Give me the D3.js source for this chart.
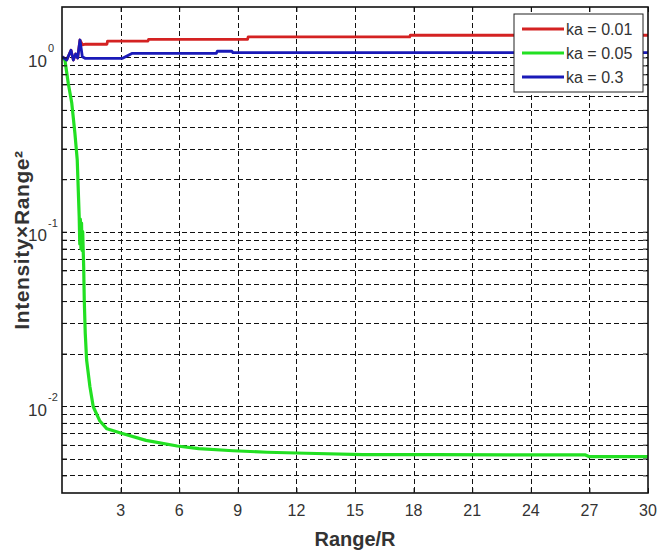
<!DOCTYPE html>
<html>
<head>
<meta charset="utf-8">
<script src="https://cdn.jsdelivr.net/npm/d3@7"></script>
<style>
  body { margin: 0; background: #fff; }
  svg { display: block; }
  text { font-family: "Liberation Sans", Arial, sans-serif; }
</style>
</head>
<body>
<svg id="chart" width="660" height="557"></svg>
<script>
// Range/R tick labels on the x axis
const xTickValues = [3, 6, 9, 12, 15, 18, 21, 24, 27, 30];
// Decade labels on the log y axis (value, exponent)
const yDecadeValues = [1, 0.1, 0.01];
const yDecadeExponents = ["0", "-1", "-2"];

const seriesNames = ["ka = 0.01", "ka = 0.05", "ka = 0.3"];
const seriesColors = ["#d42222", "#22e022", "#1a1ab8"];

// ka = 0.01
const rangeKa001 = [0, 0.24, 0.46, 0.58, 0.70, 0.80, 0.92, 1.05, 1.2, 2.3, 2.33, 4.4, 4.43, 9.5, 9.53, 17.8, 17.83, 30];
const intensityKa001 = [1.009, 0.966, 1.10, 0.966, 1.046, 0.992, 1.258, 1.18, 1.19, 1.19, 1.24, 1.24, 1.27, 1.27, 1.31, 1.31, 1.34, 1.34];

// ka = 0.05
const rangeKa005 = [0, 0.15, 0.32, 0.50, 0.66, 0.78, 0.88, 0.91, 0.94, 0.97, 1.00, 1.03, 1.06, 1.09, 1.11, 1.14, 1.19, 1.26, 1.43, 1.60, 1.94, 2.3, 3.0, 4.3, 5.9, 7.0, 8.75, 10.5, 12.5, 15.4, 19.0, 26.8, 27.0, 30];
const intensityKa005 = [1.0, 0.966, 0.71, 0.547, 0.368, 0.258, 0.122, 0.085, 0.118, 0.08, 0.112, 0.078, 0.10, 0.075, 0.063, 0.0406, 0.0262, 0.01836, 0.01291, 0.00991, 0.0082, 0.0074, 0.0070, 0.00635, 0.0059, 0.0057, 0.00554, 0.00543, 0.00536, 0.00526, 0.00526, 0.00524, 0.00512, 0.00512];

// ka = 0.3
const rangeKa03 = [0, 0.24, 0.46, 0.58, 0.70, 0.80, 0.92, 1.04, 1.18, 3.1, 3.6, 7.9, 7.95, 8.7, 8.75, 30];
const intensityKa03 = [1.009, 0.966, 1.10, 0.966, 1.046, 0.992, 1.258, 1.009, 0.988, 0.988, 1.055, 1.055, 1.085, 1.085, 1.064, 1.064];

const series = [
  { name: seriesNames[0], color: seriesColors[0], xs: rangeKa001, ys: intensityKa001 },
  { name: seriesNames[1], color: seriesColors[1], xs: rangeKa005, ys: intensityKa005 },
  { name: seriesNames[2], color: seriesColors[2], xs: rangeKa03, ys: intensityKa03 }
];

const svg = d3.select("#chart");
const plot = { left: 62, right: 648, top: 7, bottom: 493 };

const x = d3.scaleLinear().domain([0, 30]).range([plot.left, plot.right]);
const y = d3.scaleLog().domain([0.00317, 1.946]).range([plot.bottom, plot.top]);

// all minor/major log positions inside the domain
const logTicks = [];
for (let e = -3; e <= 0; e++) {
  for (let m = 1; m <= 9; m++) {
    const v = m * Math.pow(10, e);
    if (v >= y.domain()[0] && v <= y.domain()[1]) logTicks.push(v);
  }
}

const grid = svg.append("g").attr("stroke", "#111").attr("stroke-width", 1)
  .attr("stroke-dasharray", "5,3");
grid.selectAll("line.h").data(logTicks).join("line")
  .attr("x1", plot.left).attr("x2", plot.right)
  .attr("y1", d => Math.round(y(d)) + 0.5).attr("y2", d => Math.round(y(d)) + 0.5);
grid.selectAll("line.v").data(xTickValues.filter(d => d < 30)).join("line")
  .attr("class", "v")
  .attr("y1", plot.top).attr("y2", plot.bottom)
  .attr("x1", d => Math.round(x(d)) + 0.5).attr("x2", d => Math.round(x(d)) + 0.5);

// curves
const line = d3.line().x(d => x(d[0])).y(d => y(d[1]));
svg.append("defs").append("clipPath").attr("id", "clip")
  .append("rect").attr("x", plot.left).attr("y", plot.top)
  .attr("width", plot.right - plot.left).attr("height", plot.bottom - plot.top);
const curves = svg.append("g").attr("clip-path", "url(#clip)");
series.forEach((s, i) => {
  curves.append("path")
    .datum(s.xs.map((v, k) => [v, s.ys[k]]))
    .attr("fill", "none")
    .attr("stroke", s.color)
    .attr("stroke-width", i === 1 ? 3.2 : 2.8)
    .attr("stroke-linejoin", "round")
    .attr("d", line);
});

// axes (ticks point inward)
const xAxisB = d3.axisBottom(x).tickValues(xTickValues).tickSize(-5).tickFormat("").tickSizeOuter(0);
const xAxisT = d3.axisTop(x).tickValues(xTickValues).tickSize(-5).tickFormat("").tickSizeOuter(0);
const yAxisL = d3.axisLeft(y).tickValues(logTicks).tickSize(-5).tickFormat("").tickSizeOuter(0);
const yAxisR = d3.axisRight(y).tickValues(logTicks).tickSize(-5).tickFormat("").tickSizeOuter(0);
[[xAxisB, `translate(0,${plot.bottom})`], [xAxisT, `translate(0,${plot.top})`],
 [yAxisL, `translate(${plot.left},0)`], [yAxisR, `translate(${plot.right},0)`]].forEach(([ax, tr]) => {
  const g = svg.append("g").attr("transform", tr).call(ax);
  g.select(".domain").remove();
  g.selectAll("line").attr("stroke", "#111").attr("stroke-width", 1);
});

svg.append("rect")
  .attr("x", plot.left).attr("y", plot.top)
  .attr("width", plot.right - plot.left).attr("height", plot.bottom - plot.top)
  .attr("fill", "none").attr("stroke", "#111").attr("stroke-width", 1.6);

// x tick labels
svg.append("g").selectAll("text").data(xTickValues).join("text")
  .attr("x", d => x(d)).attr("y", plot.bottom + 23)
  .attr("text-anchor", "middle").attr("font-size", 16).attr("fill", "#333")
  .text(d => d);

// y decade labels with superscript exponents
const yl = svg.append("g");
yDecadeValues.forEach((v, i) => {
  yl.append("text").attr("x", 47).attr("y", y(v) + 9.5)
    .attr("text-anchor", "end").attr("font-size", 17).attr("fill", "#333").text("10");
  yl.append("text").attr("x", 48).attr("y", y(v) - 5)
    .attr("font-size", 11).attr("fill", "#333").text(yDecadeExponents[i]);
});

// axis titles
svg.append("text").attr("x", (plot.left + plot.right) / 2).attr("y", 546)
  .attr("text-anchor", "middle").attr("font-size", 20).attr("font-weight", "bold")
  .attr("fill", "#333").text("Range/R");
svg.append("text").attr("transform", "translate(29,240) rotate(-90)")
  .attr("text-anchor", "middle").attr("font-size", 21).attr("font-weight", "bold")
  .attr("letter-spacing", 0.6)
  .attr("fill", "#333").text("Intensity×Range²");

// legend
const lg = svg.append("g").attr("transform", "translate(514,14)");
lg.append("rect").attr("width", 129).attr("height", 78)
  .attr("fill", "#fff").attr("stroke", "#222").attr("stroke-width", 1);
series.forEach((s, i) => {
  const yy = 15 + i * 24;
  lg.append("line").attr("x1", 8).attr("x2", 50).attr("y1", yy).attr("y2", yy)
    .attr("stroke", s.color).attr("stroke-width", 3);
  lg.append("text").attr("x", 52).attr("y", yy + 6)
    .attr("font-size", 16).attr("fill", "#333").text(s.name);
});
</script>
</body>
</html>
